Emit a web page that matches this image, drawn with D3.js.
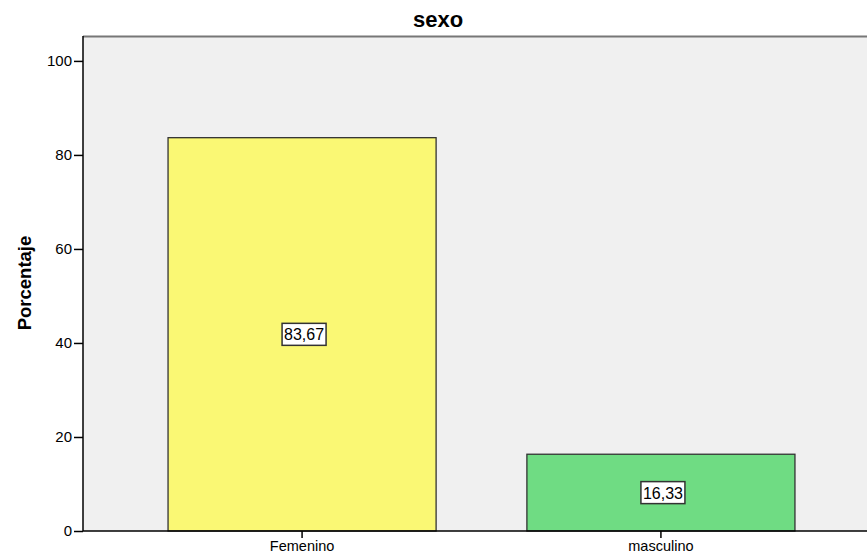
<!DOCTYPE html>
<html><head><meta charset="utf-8">
<script src="https://cdn.jsdelivr.net/npm/d3@7"></script>
<style>body{margin:0;background:#fff}svg{display:block}</style>
</head><body>
<svg id="c" width="867" height="556"></svg>
<script>
const categories = ["Femenino", "masculino"];
const values = [83.67, 16.33];
const valueLabels = ["83,67", "16,33"];
const yTicks = [0, 20, 40, 60, 80, 100];
const colors = ["#FAF874", "#6FDC83"];
const title = "sexo";
const yTitle = "Porcentaje";

const svg = d3.select("#c");
const L = 83, R = 880, T = 36, B = 531;
const x = d3.scaleBand().domain(categories).range([L, R]).paddingInner(0.253).paddingOuter(0.237);
const y = d3.scaleLinear().domain([0, 105.3]).range([B, T]);

svg.append("rect").attr("x", L).attr("y", T).attr("width", 867 - L).attr("height", B - T).attr("fill", "#F0F0F0");
svg.append("line").attr("x1", L).attr("x2", 867).attr("y1", T + 0.5).attr("y2", T + 0.5).attr("stroke", "#777").attr("stroke-width", 2);

svg.selectAll("rect.bar").data(categories).enter().append("rect").attr("class", "bar")
  .attr("x", d => x(d)).attr("width", x.bandwidth())
  .attr("y", (d, i) => y(values[i])).attr("height", (d, i) => y(0) - y(values[i]))
  .attr("fill", (d, i) => colors[i]).attr("stroke", "#333").attr("stroke-width", 1.3);

// y axis
const ya = svg.append("g").attr("transform", `translate(${L},0)`)
  .call(d3.axisLeft(y).tickValues(yTicks).tickSize(9).tickPadding(2).tickFormat(d3.format("d")));
ya.select(".domain").attr("stroke", "#000").attr("stroke-width", 1.5).attr("d", `M0,${B}V${T}`);
ya.selectAll(".tick line").attr("stroke", "#000").attr("stroke-width", 1.5);
ya.selectAll(".tick text").attr("font-family", "Liberation Sans, Arial, sans-serif").attr("font-size", 15).attr("fill", "#000");

// x axis
const xa = svg.append("g").attr("transform", `translate(0,${B})`)
  .call(d3.axisBottom(x).tickSize(7).tickPadding(3));
xa.select(".domain").attr("stroke", "#000").attr("stroke-width", 1.5).attr("d", `M${L},0H867`);
xa.selectAll(".tick line").attr("stroke", "#000").attr("stroke-width", 1.5);
xa.selectAll(".tick text").attr("font-family", "Liberation Sans, Arial, sans-serif").attr("font-size", 14.5).attr("fill", "#000");

// value labels
categories.forEach((c, i) => {
  const cx = x(c) + x.bandwidth() / 2 + 2;
  const cy = y(values[i] / 2);
  const g = svg.append("g");
  g.append("rect").attr("x", cx - 22).attr("y", cy - 11).attr("width", 44).attr("height", 22)
    .attr("fill", "#fff").attr("stroke", "#333").attr("stroke-width", 1.5);
  g.append("text").attr("x", cx).attr("y", cy + 6).attr("text-anchor", "middle")
    .attr("font-family", "Liberation Sans, Arial, sans-serif").attr("font-size", 16).attr("fill", "#000").text(valueLabels[i]);
});

svg.append("text").attr("x", 438).attr("y", 27).attr("text-anchor", "middle")
  .attr("font-family", "Liberation Sans, Arial, sans-serif").attr("font-weight", "bold").attr("font-size", 22).text(title);
svg.append("text").attr("transform", "translate(31,283) rotate(-90)").attr("text-anchor", "middle")
  .attr("font-family", "Liberation Sans, Arial, sans-serif").attr("font-weight", "bold").attr("font-size", 18.5).text(yTitle);
</script>
</body></html>
